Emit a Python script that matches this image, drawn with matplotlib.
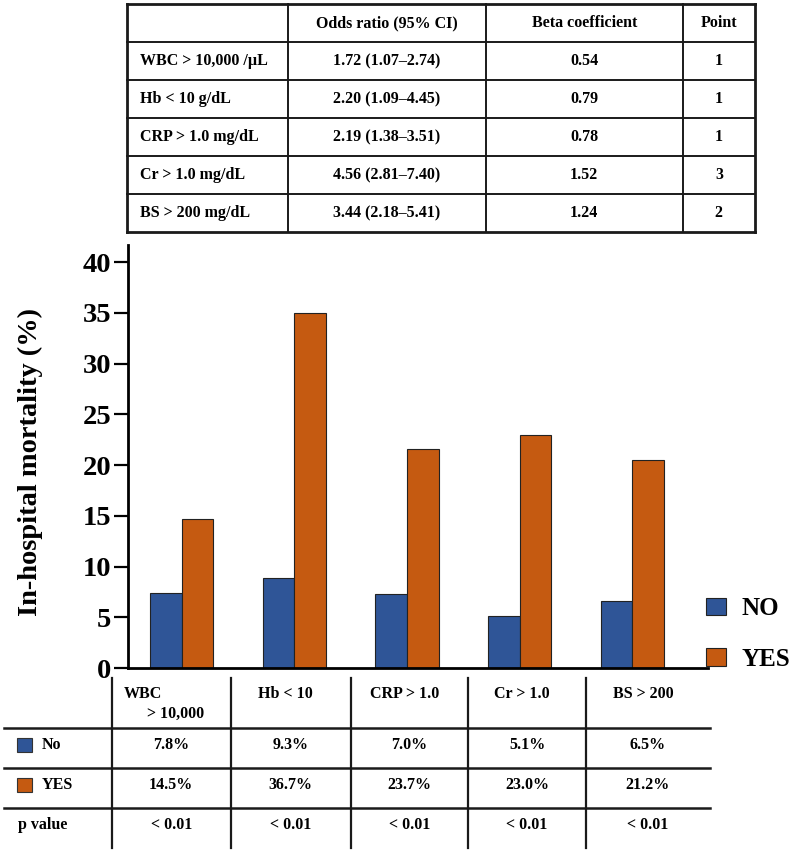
import matplotlib
matplotlib.use('Agg')
import matplotlib.pyplot as plt
from matplotlib.lines import Line2D
from matplotlib.patches import Rectangle, Patch

# ---- data ----
groups = ['WBC > 10,000', 'Hb < 10', 'CRP > 1.0', 'Cr > 1.0', 'BS > 200']
no_bar = [7.4, 8.9, 7.3, 5.1, 6.6]        # bar heights
yes_bar = [14.7, 35.0, 21.6, 23.0, 20.5]
no_pct = ['7.8%', '9.3%', '7.0%', '5.1%', '6.5%']
yes_pct = ['14.5%', '36.7%', '23.7%', '23.0%', '21.2%']
p_vals = ['< 0.01'] * 5

top_header = ['', 'Odds ratio (95% CI)', 'Beta coefficient', 'Point']
top_vars = ['WBC > 10,000 /\u00b5L', 'Hb < 10 g/dL', 'CRP > 1.0 mg/dL', 'Cr > 1.0 mg/dL', 'BS > 200 mg/dL']
odds = ['1.72 (1.07\u20132.74)', '2.20 (1.09\u20134.45)', '2.19 (1.38\u20133.51)',
        '4.56 (2.81\u20137.40)', '3.44 (2.18\u20135.41)']
beta = ['0.54', '0.79', '0.78', '1.52', '1.24']
points = ['1', '1', '1', '3', '2']

BLUE = '#2f5597'
ORANGE = '#c55a11'
W, H = 799, 852

plt.rcParams['font.family'] = ['Liberation Serif', 'DejaVu Serif']
plt.rcParams['font.weight'] = 'bold'

fig = plt.figure(figsize=(W / 100, H / 100), dpi=100)


def fx(x):
    return x / W


def fy(y):
    return 1 - y / H


def hline(x0, x1, y, lw=1.5):
    fig.add_artist(Line2D([fx(x0), fx(x1)], [fy(y), fy(y)], color='#1a1a1a', lw=lw))


def vline(x, y0, y1, lw=1.5):
    fig.add_artist(Line2D([fx(x), fx(x)], [fy(y0), fy(y1)], color='#1a1a1a', lw=lw))


def txt(x, y, s, ha='center', size=11.5):
    fig.text(fx(x), fy(y), s, ha=ha, va='center', fontsize=size, fontweight='bold')


# ---- bar chart ----
ax_l, ax_r, ax_t, ax_b = 127.7, 708.5, 245, 668
ax = fig.add_axes([fx(ax_l), fy(ax_b), fx(ax_r) - fx(ax_l), (ax_b - ax_t) / H])
x = list(range(len(groups)))
w = 0.282
ax.bar([i - w / 2 for i in x], no_bar, w, color=BLUE, edgecolor='#222222', linewidth=0.8, label='NO')
ax.bar([i + w / 2 for i in x], yes_bar, w, color=ORANGE, edgecolor='#222222', linewidth=0.8, label='YES')
ax.set_xlim(-0.479, 4.676)
ax.set_ylim(0, 41.7)
ax.set_yticks(range(0, 41, 5))
ax.set_xticks([])
for s in ['top', 'right']:
    ax.spines[s].set_visible(False)
ax.spines['left'].set_linewidth(2)
ax.spines['bottom'].set_linewidth(2)
ax.tick_params(axis='y', length=10, width=1.6, labelsize=20.5, pad=2)
for lab in ax.get_yticklabels():
    lab.set_fontweight('bold')
ax.set_ylabel('In-hospital mortality (%)', fontsize=20.5, fontweight='bold')
ax.yaxis.set_label_coords((43 - ax_l) / (ax_r - ax_l), 0.487)

handles = [Patch(facecolor=BLUE, edgecolor='#222222', linewidth=0.8),
           Patch(facecolor=ORANGE, edgecolor='#222222', linewidth=0.8)]
fig.legend(handles, ['NO', 'YES'], loc='upper left', bbox_to_anchor=(fx(706), fy(597)),
           frameon=False, handlelength=0.8, handleheight=0.7,
           handletextpad=0.6, labelspacing=1.1, borderpad=0, borderaxespad=0,
           prop={'weight': 'bold', 'size': 18})

# ---- top table ----
tcols = [127.3, 288.3, 485.7, 682.7, 755]
trows = [4, 42.3, 80, 118.3, 156, 194.3, 231.7]
for i, xc in enumerate(tcols):
    vline(xc, trows[0], trows[-1], lw=2.0 if i in (0, len(tcols) - 1) else 1.4)
for j, yr in enumerate(trows):
    hline(tcols[0], tcols[-1], yr, lw=2.0 if j in (0, len(trows) - 1) else 1.4)

def row_mid(j):
    return (trows[j] + trows[j + 1]) / 2

for c, head in enumerate(top_header):
    if head:
        txt((tcols[c] + tcols[c + 1]) / 2, row_mid(0), head)
for r in range(len(top_vars)):
    ym = row_mid(r + 1)
    txt(140, ym, top_vars[r], ha='left')
    txt((tcols[1] + tcols[2]) / 2, ym, odds[r])
    txt((tcols[2] + tcols[3]) / 2, ym, beta[r])
    txt((tcols[3] + tcols[4]) / 2, ym, points[r])

# ---- bottom table ----
bcols = [111.7, 230.7, 351, 468.3, 586, 710]
brows = [727.7, 767.7, 807.7]
for xc in bcols[:-1]:
    vline(xc, 678, 848, lw=1.6)
for yr in brows:
    hline(4, 710, yr, lw=1.8)

for c, g in enumerate(groups):
    xm = (bcols[c] + bcols[c + 1]) / 2
    if c == 0:
        first, second = g.split(' ', 1)
        txt(124, 694, first, ha='left')
        txt(147, 714, second, ha='left')
    else:
        txt(xm - 5, 694, g)
    txt(xm, 745, no_pct[c])
    txt(xm, 785, yes_pct[c])
    txt(xm, 825, p_vals[c])

for yc, col, name in [(745, BLUE, 'No'), (785, ORANGE, 'YES')]:
    fig.add_artist(Rectangle((fx(17), fy(yc + 7)), 15 / W, 14 / H, transform=fig.transFigure,
                             facecolor=col, edgecolor='#333333', linewidth=0.8))
    txt(42, yc, name, ha='left')
txt(18, 825, 'p value', ha='left')

fig.savefig('out.png', dpi=100)
